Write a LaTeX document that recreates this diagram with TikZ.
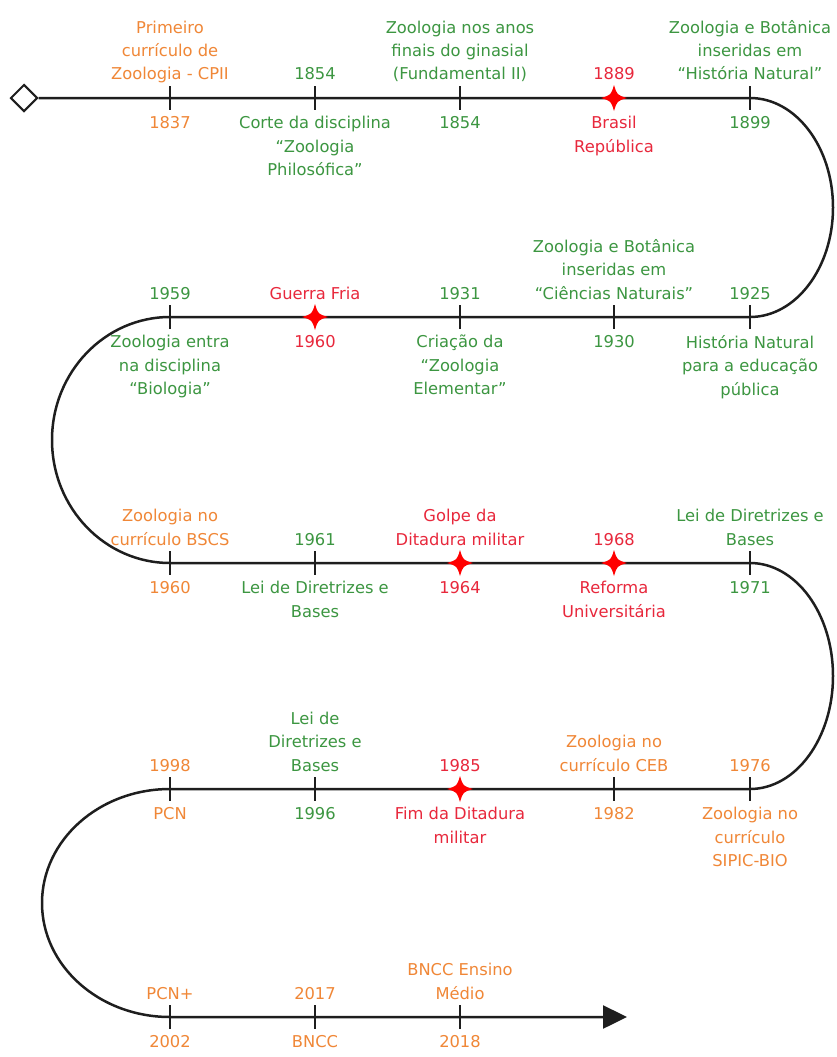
\documentclass[tikz,border=0pt]{standalone}
\usepackage{fontspec}
\setmainfont{DejaVu Sans}
\usepackage{tikz}
\usetikzlibrary{shapes.geometric, arrows.meta}

\definecolor{orng}{RGB}{240,135,55}
\definecolor{grn}{RGB}{60,150,65}
\definecolor{rd}{RGB}{232,40,60}
\definecolor{tl}{RGB}{30,30,30}

\tikzset{
    timeline/.style={draw=tl, line width=2.5pt},
    tickmark/.style={fill=tl, inner sep=0pt, minimum width=2.5pt, minimum height=24pt},
    starmark/.style={inner sep=0pt, minimum size=28pt,
        path picture={\fill[red, shift={(path picture bounding box.center)}]
            (13,0) .. controls (3,3) .. (0,13) .. controls (-3,3) .. (-13,0)
            .. controls (-3,-3) .. (0,-13) .. controls (3,-3) .. (13,0) -- cycle;}},
    uplabel/.style={anchor=base, align=center, inner sep=0pt, font=\fontsize{16.3}{23.5}\selectfont},
    downlabel/.style={anchor=north, align=center, inner sep=0pt, font=\fontsize{16.3}{23.5}\selectfont}
}

\begin{document}
\begin{tikzpicture}[x=1pt, y=-1pt]
        \fill[white] (0,0) rectangle (837,1057);
        \useasboundingbox (0,0) rectangle (837,1057);

        % Grid of positions on the five rows
        \foreach \r/\y in {1/98, 2/317, 3/563, 4/789, 5/1017}
            \foreach \c/\x in {1/170, 2/315, 3/460, 4/614, 5/750}
                \coordinate (p\r\c) at (\x,\y);
        \coordinate (tip) at (627,1017);

        % Winding line
        \node[draw=tl, line width=2pt, diamond, fill=white, inner sep=0pt, minimum size=27pt] (start) at (24,98) {};
        \draw[timeline, -{Triangle[length=24pt, width=23pt]}] (start.east) -- (p15)
            arc[start angle=-90, end angle=90, x radius=83, y radius=109.5] -- (p21)
            arc[start angle=-90, end angle=-270, x radius=118, y radius=123] -- (p35)
            arc[start angle=-90, end angle=90, x radius=83, y radius=113] -- (p41)
            arc[start angle=-90, end angle=-270, x radius=128, y radius=114] -- (tip);

        % Marks and texts
        \foreach \r/\c/\mk/\col/\up/\down in {
            1/1/tickmark/orng/{Primeiro\\currículo de\\Zoologia - CPII}/{1837},
            1/2/tickmark/grn/{1854}/{Corte da disciplina\\“Zoologia\\Philosófica”},
            1/3/tickmark/grn/{Zoologia nos anos\\finais do ginasial\\(Fundamental II)}/{1854},
            1/4/starmark/rd/{1889}/{Brasil\\República},
            1/5/tickmark/grn/{Zoologia e Botânica\\inseridas em\\“História Natural”}/{1899},
            2/1/tickmark/grn/{1959}/{Zoologia entra\\na disciplina\\“Biologia”},
            2/2/starmark/rd/{Guerra Fria}/{1960},
            2/3/tickmark/grn/{1931}/{Criação da\\“Zoologia\\Elementar”},
            2/4/tickmark/grn/{Zoologia e Botânica\\inseridas em\\“Ciências Naturais”}/{1930},
            2/5/tickmark/grn/{1925}/{História Natural\\para a educação\\pública},
            3/1/tickmark/orng/{Zoologia no\\currículo BSCS}/{1960},
            3/2/tickmark/grn/{1961}/{Lei de Diretrizes e\\Bases},
            3/3/starmark/rd/{Golpe da\\Ditadura militar}/{1964},
            3/4/starmark/rd/{1968}/{Reforma\\Universitária},
            3/5/tickmark/grn/{Lei de Diretrizes e\\Bases}/{1971},
            4/1/tickmark/orng/{1998}/{PCN},
            4/2/tickmark/grn/{Lei de\\Diretrizes e\\Bases}/{1996},
            4/3/starmark/rd/{1985}/{Fim da Ditadura\\militar},
            4/4/tickmark/orng/{Zoologia no\\currículo CEB}/{1982},
            4/5/tickmark/orng/{1976}/{Zoologia no\\currículo\\SIPIC-BIO},
            5/1/tickmark/orng/{PCN+}/{2002},
            5/2/tickmark/orng/{2017}/{BNCC},
            5/3/tickmark/orng/{BNCC Ensino\\Médio}/{2018}}
        {
            \node[\mk] (m\r\c) at (p\r\c) {};
            \node[uplabel, text=\col] (u\r\c) at ([yshift=18pt]p\r\c) {\up};
            \node[downlabel, text=\col] (d\r\c) at ([yshift=-18pt]p\r\c) {\down};
        }
    \end{tikzpicture}
\end{document}
